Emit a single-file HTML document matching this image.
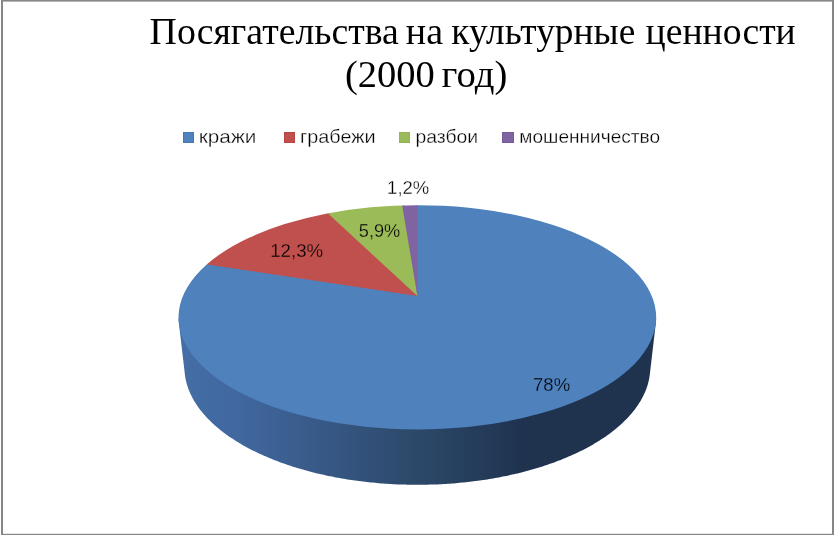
<!DOCTYPE html>
<html><head><meta charset="utf-8"><title>Посягательства на культурные ценности (2000 год)</title>
<style>
html,body{margin:0;padding:0;background:#fff;}
body{width:834px;height:535px;overflow:hidden;position:relative;}
svg{position:absolute;left:0;top:0;display:block;}
.t{font-family:"Liberation Serif",serif;font-size:37.33px;fill:#000;}
.l{font-family:"Liberation Sans",sans-serif;font-size:18.4px;fill:#000;}
</style></head><body>
<svg width="834" height="535" viewBox="0 0 834 535">
<defs>
<linearGradient id="sg" gradientUnits="userSpaceOnUse" x1="178" y1="0" x2="657" y2="0">
<stop offset="0" stop-color="#446ea5"/>
<stop offset="0.12" stop-color="#4168a0"/>
<stop offset="0.5" stop-color="#2c4869"/>
<stop offset="0.72" stop-color="#1f334f"/>
<stop offset="1" stop-color="#1f334f"/>
</linearGradient>
<clipPath id="tc"><ellipse cx="417.35" cy="317.35" rx="238.8" ry="112.15"/></clipPath>
</defs>
<rect x="0" y="0" width="834" height="535" fill="#fff"/>
<!-- frame -->
<rect x="1" y="0" width="833" height="1.6" fill="#868686"/>
<rect x="1" y="0" width="2" height="535" fill="#868686"/>
<rect x="832" y="0" width="2" height="535" fill="#868686"/>
<rect x="1" y="533.8" width="833" height="1.2" fill="#868686"/>
<!-- legend -->
<rect x="183" y="132" width="11" height="11" fill="#4676b5"/><rect x="184" y="133" width="9" height="9" fill="#4f81bd"/>
<rect x="284" y="132" width="11" height="11" fill="#b84542"/><rect x="285" y="133" width="9" height="9" fill="#c0504d"/>
<rect x="399" y="132" width="11" height="11" fill="#93b450"/><rect x="400" y="133" width="9" height="9" fill="#9bbb59"/>
<rect x="502" y="132" width="12" height="11" fill="#775a9b"/><rect x="503" y="133" width="10" height="9" fill="#8064a2"/>
<!-- pie side -->
<path d="M178.6,318.3 L260.0,280.7 L261.5,280.0 L263.0,279.3 L264.6,278.6 L266.1,278.0 L267.6,277.3 L269.2,276.6 L270.8,276.0 L272.4,275.3 L274.0,274.7 L275.6,274.1 L277.2,273.5 L278.8,272.8 L280.5,272.2 L282.1,271.6 L283.8,271.0 L285.4,270.5 L287.1,269.9 L288.8,269.3 L290.5,268.8 L292.2,268.2 L293.9,267.7 L295.7,267.1 L297.4,266.6 L299.1,266.1 L300.9,265.5 L302.7,265.0 L304.4,264.5 L306.2,264.0 L308.0,263.6 L309.8,263.1 L311.6,262.6 L313.4,262.1 L315.3,261.7 L317.1,261.2 L318.9,260.8 L320.8,260.4 L322.6,260.0 L324.5,259.5 L326.3,259.1 L328.2,258.7 L330.1,258.4 L332.0,258.0 L333.9,257.6 L335.8,257.2 L337.7,256.9 L339.6,256.5 L341.5,256.2 L343.4,255.9 L345.4,255.6 L347.3,255.2 L349.3,254.9 L351.2,254.6 L353.2,254.4 L355.1,254.1 L357.1,253.8 L359.0,253.5 L361.0,253.3 L363.0,253.0 L365.0,252.8 L366.9,252.6 L368.9,252.4 L370.9,252.2 L372.9,252.0 L374.9,251.8 L376.9,251.6 L378.9,251.4 L380.9,251.2 L382.9,251.1 L384.9,250.9 L387.0,250.8 L389.0,250.7 L391.0,250.6 L393.0,250.4 L395.0,250.3 L397.1,250.2 L399.1,250.2 L401.1,250.1 L403.1,250.0 L405.2,250.0 L407.2,249.9 L409.2,249.9 L411.3,249.8 L413.3,249.8 L415.3,249.8 L417.3,249.8 L419.4,249.8 L421.4,249.8 L423.4,249.8 L425.5,249.9 L427.5,249.9 L429.5,250.0 L431.6,250.0 L433.6,250.1 L435.6,250.2 L437.6,250.2 L439.7,250.3 L441.7,250.4 L443.7,250.6 L445.7,250.7 L447.7,250.8 L449.8,250.9 L451.8,251.1 L453.8,251.2 L455.8,251.4 L457.8,251.6 L459.8,251.8 L461.8,252.0 L463.8,252.2 L465.8,252.4 L467.8,252.6 L469.7,252.8 L471.7,253.0 L473.7,253.3 L475.7,253.5 L477.6,253.8 L479.6,254.1 L481.5,254.4 L483.5,254.6 L485.4,254.9 L487.4,255.2 L489.3,255.6 L491.3,255.9 L493.2,256.2 L495.1,256.5 L497.0,256.9 L498.9,257.2 L500.8,257.6 L502.7,258.0 L504.6,258.4 L506.5,258.7 L508.4,259.1 L510.2,259.5 L512.1,260.0 L513.9,260.4 L515.8,260.8 L517.6,261.2 L519.4,261.7 L521.3,262.1 L523.1,262.6 L524.9,263.1 L526.7,263.6 L528.5,264.0 L530.3,264.5 L532.0,265.0 L533.8,265.5 L535.6,266.1 L537.3,266.6 L539.0,267.1 L540.8,267.7 L542.5,268.2 L544.2,268.8 L545.9,269.3 L547.6,269.9 L549.3,270.5 L550.9,271.0 L552.6,271.6 L554.2,272.2 L555.9,272.8 L557.5,273.5 L559.1,274.1 L560.7,274.7 L562.3,275.3 L563.9,276.0 L565.5,276.6 L567.1,277.3 L568.6,278.0 L570.1,278.6 L571.7,279.3 L573.2,280.0 L574.7,280.7 L656.1,318.3 L656.1,319.3 L656.1,320.3 L656.0,321.3 L655.9,322.2 L655.8,323.2 L649.8,374.5 L649.7,375.5 L649.5,376.5 L649.4,377.5 L649.2,378.6 L649.0,379.6 L648.8,380.6 L648.5,381.6 L648.3,382.6 L648.0,383.7 L647.7,384.7 L647.4,385.7 L647.1,386.7 L646.7,387.7 L646.4,388.7 L646.0,389.7 L645.6,390.7 L645.2,391.7 L644.7,392.7 L644.3,393.7 L643.8,394.7 L643.3,395.7 L642.8,396.7 L642.3,397.7 L641.8,398.7 L641.2,399.7 L640.7,400.7 L640.1,401.7 L639.5,402.6 L638.9,403.6 L638.2,404.6 L637.6,405.6 L636.9,406.5 L636.2,407.5 L635.5,408.4 L634.8,409.4 L634.0,410.4 L633.3,411.3 L632.5,412.3 L631.7,413.2 L630.9,414.2 L630.1,415.1 L629.3,416.0 L628.4,417.0 L627.6,417.9 L626.7,418.8 L625.8,419.7 L624.9,420.6 L623.9,421.6 L623.0,422.5 L622.0,423.4 L621.0,424.3 L620.1,425.2 L619.0,426.1 L618.0,426.9 L617.0,427.8 L615.9,428.7 L614.9,429.6 L613.8,430.4 L612.7,431.3 L611.6,432.2 L610.4,433.0 L609.3,433.9 L608.1,434.7 L607.0,435.5 L605.8,436.4 L604.6,437.2 L603.4,438.0 L602.1,438.8 L600.9,439.6 L599.6,440.4 L598.3,441.2 L597.1,442.0 L595.8,442.8 L594.4,443.6 L593.1,444.4 L591.8,445.2 L590.4,445.9 L589.1,446.7 L587.7,447.4 L586.3,448.2 L584.9,448.9 L583.5,449.7 L582.0,450.4 L580.6,451.1 L579.1,451.8 L577.7,452.5 L576.2,453.2 L574.7,453.9 L573.2,454.6 L571.7,455.3 L570.1,456.0 L568.6,456.6 L567.1,457.3 L565.5,458.0 L563.9,458.6 L562.3,459.3 L560.7,459.9 L559.1,460.5 L557.5,461.1 L555.9,461.8 L554.2,462.4 L552.6,463.0 L550.9,463.6 L549.3,464.1 L547.6,464.7 L545.9,465.3 L544.2,465.8 L542.5,466.4 L540.8,466.9 L539.0,467.5 L537.3,468.0 L535.6,468.5 L533.8,469.1 L532.0,469.6 L530.3,470.1 L528.5,470.6 L526.7,471.0 L524.9,471.5 L523.1,472.0 L521.3,472.5 L519.4,472.9 L517.6,473.4 L515.8,473.8 L513.9,474.2 L512.1,474.6 L510.2,475.1 L508.4,475.5 L506.5,475.9 L504.6,476.2 L502.7,476.6 L500.8,477.0 L498.9,477.4 L497.0,477.7 L495.1,478.1 L493.2,478.4 L491.3,478.7 L489.3,479.0 L487.4,479.4 L485.4,479.7 L483.5,480.0 L481.5,480.2 L479.6,480.5 L477.6,480.8 L475.7,481.1 L473.7,481.3 L471.7,481.6 L469.7,481.8 L467.8,482.0 L465.8,482.2 L463.8,482.4 L461.8,482.6 L459.8,482.8 L457.8,483.0 L455.8,483.2 L453.8,483.4 L451.8,483.5 L449.8,483.7 L447.7,483.8 L445.7,483.9 L443.7,484.0 L441.7,484.2 L439.7,484.3 L437.6,484.4 L435.6,484.4 L433.6,484.5 L431.6,484.6 L429.5,484.6 L427.5,484.7 L425.5,484.7 L423.4,484.8 L421.4,484.8 L419.4,484.8 L417.4,484.8 L415.3,484.8 L413.3,484.8 L411.3,484.8 L409.2,484.7 L407.2,484.7 L405.2,484.6 L403.1,484.6 L401.1,484.5 L399.1,484.4 L397.1,484.4 L395.0,484.3 L393.0,484.2 L391.0,484.0 L389.0,483.9 L387.0,483.8 L384.9,483.7 L382.9,483.5 L380.9,483.4 L378.9,483.2 L376.9,483.0 L374.9,482.8 L372.9,482.6 L370.9,482.4 L368.9,482.2 L366.9,482.0 L365.0,481.8 L363.0,481.6 L361.0,481.3 L359.0,481.1 L357.1,480.8 L355.1,480.5 L353.2,480.2 L351.2,480.0 L349.3,479.7 L347.3,479.4 L345.4,479.0 L343.4,478.7 L341.5,478.4 L339.6,478.1 L337.7,477.7 L335.8,477.4 L333.9,477.0 L332.0,476.6 L330.1,476.2 L328.2,475.9 L326.3,475.5 L324.5,475.1 L322.6,474.6 L320.8,474.2 L318.9,473.8 L317.1,473.4 L315.3,472.9 L313.4,472.5 L311.6,472.0 L309.8,471.5 L308.0,471.0 L306.2,470.6 L304.4,470.1 L302.7,469.6 L300.9,469.1 L299.1,468.5 L297.4,468.0 L295.7,467.5 L293.9,466.9 L292.2,466.4 L290.5,465.8 L288.8,465.3 L287.1,464.7 L285.4,464.1 L283.8,463.6 L282.1,463.0 L280.5,462.4 L278.8,461.8 L277.2,461.1 L275.6,460.5 L274.0,459.9 L272.4,459.3 L270.8,458.6 L269.2,458.0 L267.6,457.3 L266.1,456.6 L264.6,456.0 L263.0,455.3 L261.5,454.6 L260.0,453.9 L258.5,453.2 L257.0,452.5 L255.6,451.8 L254.1,451.1 L252.7,450.4 L251.2,449.7 L249.8,448.9 L248.4,448.2 L247.0,447.4 L245.6,446.7 L244.3,445.9 L242.9,445.2 L241.6,444.4 L240.3,443.6 L238.9,442.8 L237.6,442.0 L236.4,441.2 L235.1,440.4 L233.8,439.6 L232.6,438.8 L231.3,438.0 L230.1,437.2 L228.9,436.4 L227.7,435.5 L226.6,434.7 L225.4,433.9 L224.3,433.0 L223.1,432.2 L222.0,431.3 L220.9,430.4 L219.8,429.6 L218.8,428.7 L217.7,427.8 L216.7,426.9 L215.7,426.1 L214.6,425.2 L213.7,424.3 L212.7,423.4 L211.7,422.5 L210.8,421.6 L209.8,420.6 L208.9,419.7 L208.0,418.8 L207.1,417.9 L206.3,417.0 L205.4,416.0 L204.6,415.1 L203.8,414.2 L203.0,413.2 L202.2,412.3 L201.4,411.3 L200.7,410.4 L199.9,409.4 L199.2,408.4 L198.5,407.5 L197.8,406.5 L197.1,405.6 L196.5,404.6 L195.8,403.6 L195.2,402.6 L194.6,401.7 L194.0,400.7 L193.5,399.7 L192.9,398.7 L192.4,397.7 L191.9,396.7 L191.4,395.7 L190.9,394.7 L190.4,393.7 L190.0,392.7 L189.5,391.7 L189.1,390.7 L188.7,389.7 L188.3,388.7 L188.0,387.7 L187.6,386.7 L187.3,385.7 L187.0,384.7 L186.7,383.7 L186.4,382.6 L186.2,381.6 L185.9,380.6 L185.7,379.6 L185.5,378.6 L185.3,377.5 L185.2,376.5 L185.0,375.5 L184.9,374.5 L178.9,323.2 L178.8,322.2 L178.7,321.3 L178.6,320.3 L178.6,319.3Z" fill="url(#sg)"/>
<!-- pie top -->
<path d="M417.30,205.20 A238.8,112.15 0 1 1 206.80,264.44 L213.38,262.33 A235.22,110.47 0 0 1 412.60,206.90 Z" fill="#4f81bd"/>
<g clip-path="url(#tc)">
<path d="M417.4,296.0 L80.4,245.5 L280.2,163.8Z" fill="#c0504d"/>
<path d="M417.4,296.0 L274.2,163.8 L397.0,151.1Z" fill="#9bbb59"/>
<path d="M417.4,296.0 L393.0,151.1 L417.2,150.7Z" fill="#8064a2"/>
</g>
<!-- title, legend labels, data labels -->
<text class="t" x="149.63" y="43.6" textLength="249.21" lengthAdjust="spacingAndGlyphs">Посягательства</text>
<text class="t" x="405.83" y="43.6" textLength="37.14" lengthAdjust="spacingAndGlyphs">на</text>
<text class="t" x="451.38" y="43.6" textLength="183.89" lengthAdjust="spacingAndGlyphs">культурные</text>
<text class="t" x="645.56" y="43.6" textLength="150.2" lengthAdjust="spacingAndGlyphs">ценности</text>
<text class="t" x="345.04" y="86.9" textLength="89.69" lengthAdjust="spacingAndGlyphs">(2000</text>
<text class="t" x="441.53" y="86.9" textLength="65.84" lengthAdjust="spacingAndGlyphs">год)</text>
<text class="l" stroke="#ffffff" stroke-width="0.3" x="198.81" y="142.5" textLength="57.5" lengthAdjust="spacingAndGlyphs">кражи</text>
<text class="l" stroke="#ffffff" stroke-width="0.3" x="299.92" y="142.5" textLength="75.67" lengthAdjust="spacingAndGlyphs">грабежи</text>
<text class="l" stroke="#ffffff" stroke-width="0.3" x="415.44" y="142.5" textLength="62.69" lengthAdjust="spacingAndGlyphs">разбои</text>
<text class="l" stroke="#ffffff" stroke-width="0.3" x="519.35" y="142.5" textLength="140.81" lengthAdjust="spacingAndGlyphs">мошенничество</text>
<text class="l" stroke="#ffffff" stroke-width="0.3" x="387.13" y="193.6" textLength="42.03" lengthAdjust="spacingAndGlyphs">1,2%</text>
<text class="l" stroke="#9bbb59" stroke-width="0.3" x="358.86" y="236.6" textLength="41.42" lengthAdjust="spacingAndGlyphs">5,9%</text>
<text class="l" stroke="#c0504d" stroke-width="0.3" x="270.24" y="256.6" textLength="52.89" lengthAdjust="spacingAndGlyphs">12,3%</text>
<text class="l" stroke="#4f81bd" stroke-width="0.3" x="533.02" y="390.6" textLength="37.11" lengthAdjust="spacingAndGlyphs">78%</text>
</svg>
</body></html>
